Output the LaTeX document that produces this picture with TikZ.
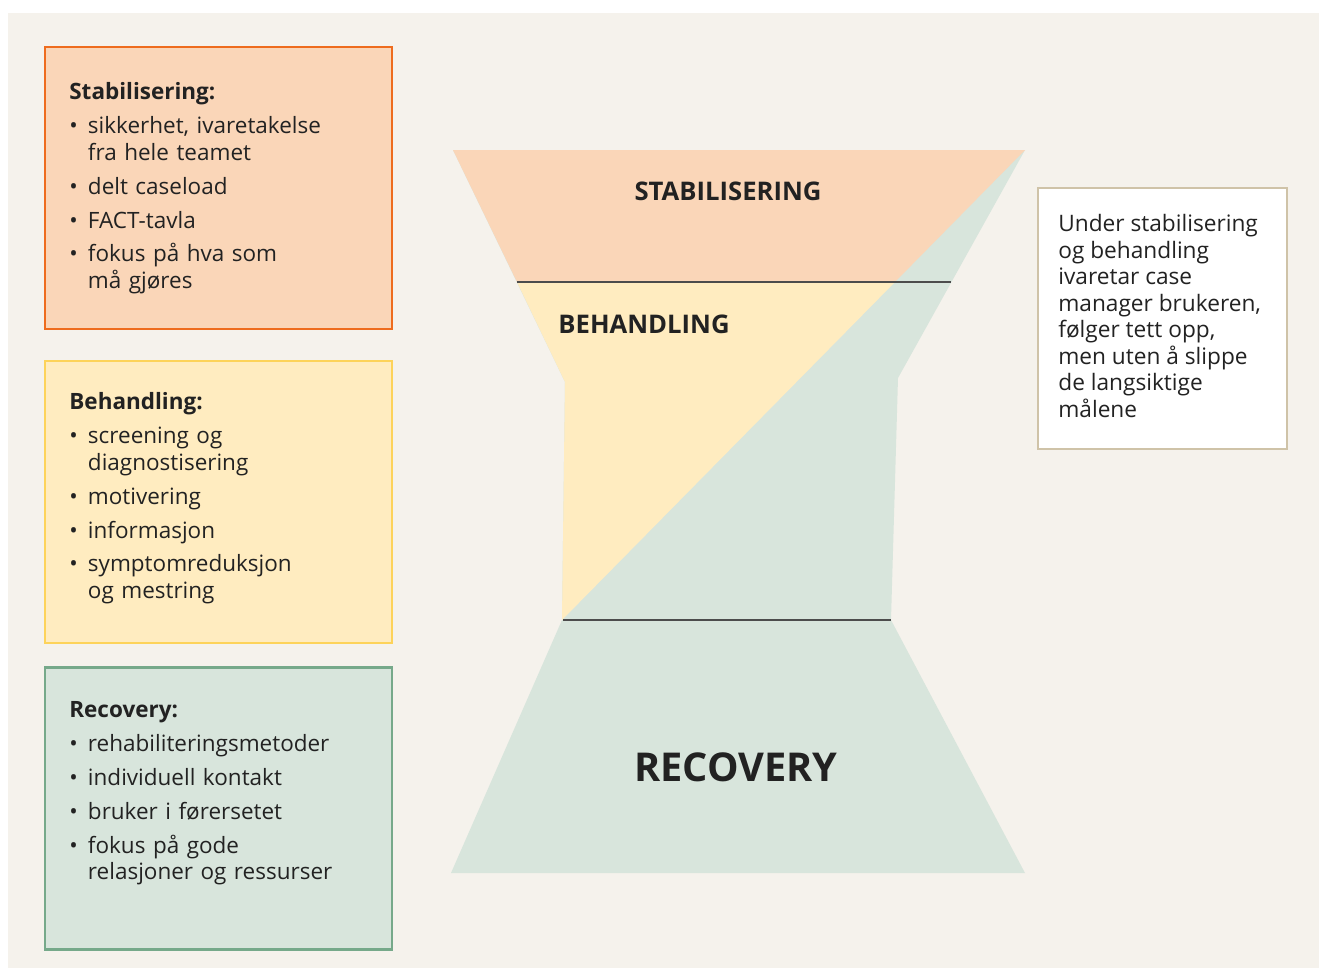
\documentclass[tikz,border=0pt]{standalone}
\usepackage{fontspec}
\setmainfont{Open Sans}
\usepackage{xcolor}
\usepackage{tikz}

\definecolor{bakgrunn}{HTML}{F5F2EC}
\definecolor{stabfyll}{HTML}{FAD6B8}
\definecolor{stabkant}{HTML}{EE6C1E}
\definecolor{behfyll}{HTML}{FFECC0}
\definecolor{behkant}{HTML}{FDD35A}
\definecolor{recfyll}{HTML}{D8E5DC}
\definecolor{reckant}{HTML}{76A98A}
\definecolor{notekant}{HTML}{CFC3A8}
\definecolor{tekst}{HTML}{222222}

\newenvironment{punkter}{\begin{list}{\textbullet}{%
  \setlength{\leftmargin}{10.6pt}\setlength{\labelwidth}{10.6pt}%
  \setlength{\labelsep}{0pt}\setlength{\itemsep}{4pt}%
  \setlength{\parsep}{0pt}\setlength{\topsep}{4pt}%
  \setlength{\partopsep}{0pt}\def\makelabel##1{##1\hfil}}}{\end{list}}

\tikzset{
  kasse/.style={line width=1.7pt},
  liste/.style={anchor=north west, inner sep=0pt, text width=176pt, align=left,
    font=\fontsize{12.8}{15.3}\selectfont, text=tekst},
  fase/.style={font=\fontsize{14.6}{17}\selectfont\bfseries, text=tekst},
  skille/.style={draw=black!70, line width=0.7pt}
}

\begin{document}
\begin{tikzpicture}[x=0.02cm, y=-0.02cm]
  \useasboundingbox (0,0) rectangle (1319,970);
  \fill[white] (0,0) rectangle (1319,970);
  \fill[bakgrunn] (8,13) rectangle (1319,968);

  % venstre kolonne
  \draw[kasse, draw=stabkant, fill=stabfyll] (45,47) rectangle (392,329);
  \draw[kasse, draw=behkant, fill=behfyll] (45,361) rectangle (392,643);
  \draw[kasse, draw=reckant, fill=recfyll] (45,667) rectangle (392,949);

  \node[liste] (stabliste) at (69,82) {\textbf{Stabilisering:}
    \begin{punkter}
      \item sikkerhet, ivaretakelse\newline fra hele teamet
      \item delt caseload
      \item FACT-tavla
      \item fokus på hva som\newline må gjøres
    \end{punkter}};
  \node[liste] (behliste) at (69,392) {\textbf{Behandling:}
    \begin{punkter}
      \item screening og\newline diagnostisering
      \item motivering
      \item informasjon
      \item symptomreduksjon\newline og mestring
    \end{punkter}};
  \node[liste] (recliste) at (69,701) {\textbf{Recovery:}
    \begin{punkter}
      \item rehabiliteringsmetoder
      \item individuell kontakt
      \item bruker i førersetet
      \item fokus på gode\newline relasjoner og ressurser
    \end{punkter}};

  % timeglass
  \fill[recfyll] (453,150) -- (1025,150) -- (898,378) -- (891,620) -- (1025,873)
    -- (451,873) -- (562,620) -- (565,382) -- cycle;
  \fill[stabfyll] (453,150) -- (1025,150) -- (895,282) -- (517,282) -- cycle;
  \fill[behfyll] (517,282) -- (895,282) -- (562,620) -- (565,382) -- cycle;

  \coordinate (s1) at (517,282);
  \coordinate (s2) at (951,282);
  \coordinate (b1) at (563,620);
  \coordinate (b2) at (891,620);
  \draw[skille] (s1) -- (s2);
  \draw[skille] (b1) -- (b2);

  \node[fase] (stab) at (728,191) {STABILISERING};
  \node[fase] (beh) at (644,324) {BEHANDLING};
  \node[fase, font=\fontsize{22.6}{27}\selectfont\bfseries] (rec) at (736,767) {RECOVERY};

  % merknad
  \draw[line width=1.1pt, draw=notekant, fill=white] (1038,188) rectangle (1287,449);
  \node[anchor=north west, inner sep=0pt, align=left, text=tekst,
    font=\fontsize{12.9}{15.1}\selectfont] (notat) at (1058,214)
    {Under stabilisering\\og behandling\\ivaretar case\\manager brukeren,\\følger tett opp,\\men uten å slippe\\de langsiktige\\målene};
\end{tikzpicture}
\end{document}
